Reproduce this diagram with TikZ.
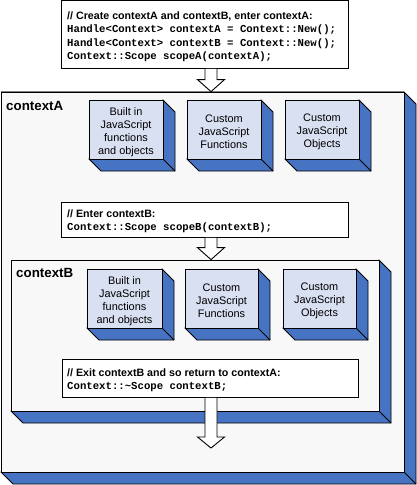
\documentclass[tikz,border=0pt]{standalone}
\usepackage{fontspec}
\setmainfont{Liberation Sans}
\newfontfamily\codefont{Liberation Mono}
\usetikzlibrary{fit,calc}
\definecolor{depthblue}{HTML}{4674C2}
\definecolor{facegray}{HTML}{F8F8F8}
\definecolor{boxblue}{HTML}{D9E0F1}
\definecolor{edgegray}{HTML}{808080}
\tikzset{
  depthface/.style={fill=depthblue,draw=black,line width=0.8pt,line join=miter},
  edgeline/.style={draw=black,line width=0.8pt},
  codebox/.style={draw=black,fill=white,line width=0.9pt,inner sep=0pt},
  headtext/.style={anchor=base west,inner sep=0pt,font=\fontsize{10.67}{13}\selectfont\bfseries},
  codetext/.style={anchor=base west,inner sep=0pt,font=\fontsize{10.67}{13}\selectfont\codefont\bfseries},
  ctxlabel/.style={anchor=base west,inner sep=0pt,font=\fontsize{13.33}{15}\selectfont\bfseries},
  boxtext/.style={inner sep=0pt,align=center,font=\fontsize{10.9}{13}\selectfont},
  blockarrow/.style={fill=white,draw=black,line width=0.9pt,line join=miter},
}
\newcommand\boxthree[7]{%
  \filldraw[depthface] (#4,#3) -- (#4+12,#3+12) -- (#4+12,#5+12) -- (#2+12,#5+12) -- (#2,#5) -- cycle;
  \draw[edgeline] (#4,#5) -- (#4+12,#5+12);
  \node[fit={(#2,#3) (#4,#5)}, inner sep=0pt, draw=black, line width=0.8pt, fill=#6] (#1) {};
  \node[boxtext, yshift=-2.5pt] (#1t) at (#1.center) {#7};
}
\newcommand\arrowdown[3]{% #1 top node, #2 target node, #3 center x
  \filldraw[blockarrow] let \p1=(#1.south), \p2=(#2.north) in
    (#3-6,\y1-0.5pt) -- (#3-6,\y2+12pt) -- (#3-13.5,\y2+12pt) -- (#3,\y2) --
    (#3+13.5,\y2+12pt) -- (#3+6,\y2+12pt) -- (#3+6,\y1-0.5pt);
}
\begin{document}
\begin{tikzpicture}[x=1pt,y=-1pt]
\useasboundingbox (0,0) rectangle (417,485);
% contextA
\boxthree{ctxA}{1}{92}{404}{472}{facegray}{}
\draw[edgegray,line width=0.9pt] (ctxA.north west) -- (ctxA.north east);
\node[ctxlabel] (labA) at (6,110) {contextA};
\boxthree{a1}{89}{100}{163}{159}{boxblue}{Built in\\JavaScript\\functions\\and objects}
\boxthree{a2}{187}{100}{261}{159}{boxblue}{Custom\\JavaScript\\Functions}
\boxthree{a3}{285}{100}{359}{159}{boxblue}{Custom\\JavaScript\\Objects}
% code box 2
\node[codebox,fit={(61,202) (348,237)}] (code2) {};
\node[headtext] (c2h) at (67,217) {// Enter contextB:};
\node[codetext] (c2a) at (67,230.5) {Context::Scope scopeB(contextB);};
% contextB
\boxthree{ctxB}{11}{260}{379}{411}{facegray}{}
\node[ctxlabel] (labB) at (16,277) {contextB};
\boxthree{b1}{87}{269}{162}{328}{boxblue}{Built in\\JavaScript\\functions\\and objects}
\boxthree{b2}{185}{269}{258}{328}{boxblue}{Custom\\JavaScript\\Functions}
\boxthree{b3}{283}{269}{356}{328}{boxblue}{Custom\\JavaScript\\Objects}
\arrowdown{code2}{ctxB}{211}
% code box 3
\node[codebox,fit={(62,359) (358,397)}] (code3) {};
\node[headtext] (c3h) at (67,376) {// Exit contextB and so return to contextA:};
\node[codetext] (c3a) at (67,389.5) {Context::\textasciitilde Scope contextB;};
\coordinate (endA) at (211,448);
\filldraw[blockarrow] let \p1=(code3.south), \p2=(endA) in
    (205,\y1-0.5pt) -- (205,\y2+11pt) -- (197.5,\y2+11pt) -- (211,\y2) --
    (224.5,\y2+11pt) -- (217,\y2+11pt) -- (217,\y1-0.5pt);
% code box 1
\node[codebox,fit={(61,0.5) (348,68)}] (code1) {};
\node[headtext] (c1h) at (67,19) {// Create contextA and contextB, enter contextA:};
\node[codetext] (c1a) at (67,32.5) {Handle<Context> contextA = Context::New();};
\node[codetext] (c1b) at (67,46) {Handle<Context> contextB = Context::New();};
\node[codetext] (c1c) at (67,59.5) {Context::Scope scopeA(contextA);};
\arrowdown{code1}{ctxA}{211}
\end{tikzpicture}
\end{document}
